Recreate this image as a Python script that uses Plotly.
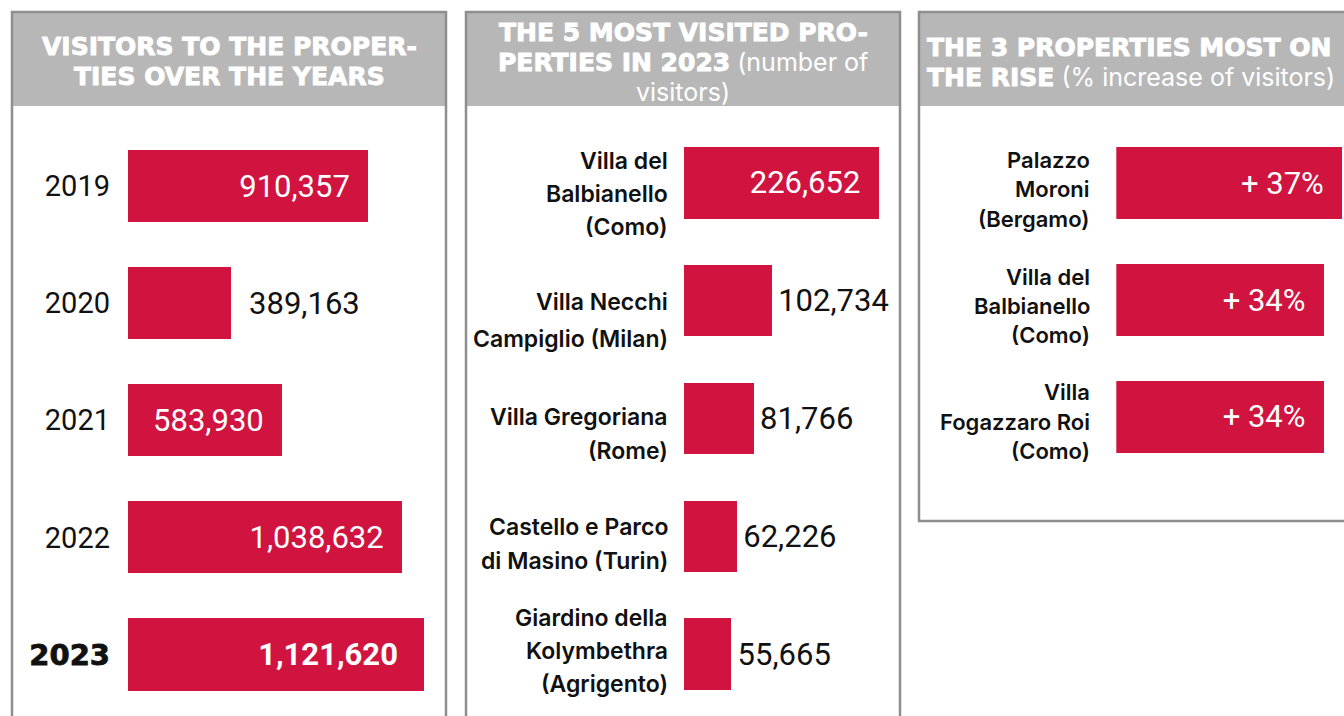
import plotly.graph_objects as go

# ---------------- data ----------------
years = ["2019", "2020", "2021", "2022", "2023"]
visitors = [910357, 389163, 583930, 1038632, 1121620]

top5_names = ["Villa del<br>Balbianello<br>(Como)",
              "Villa Necchi<br>Campiglio (Milan)",
              "Villa Gregoriana<br>(Rome)",
              "Castello e Parco<br>di Masino (Turin)",
              "Giardino della<br>Kolymbethra<br>(Agrigento)"]
top5_visitors = [226652, 102734, 81766, 62226, 55665]

rise_names = ["Palazzo<br>Moroni<br>(Bergamo)",
              "Villa del<br>Balbianello<br>(Como) ",
              "Villa<br>Fogazzaro Roi<br>(Como)"]
rise_pct = [37, 34, 34]

# ---------------- style ----------------
W, H = 1344, 716
RED = "#D0143F"
DARK = "#111111"
GREY_FILL = "#B7B7B7"
GREY_LINE = "#8E8E8E"
NB = "\u00a0"
VAL_FONT = "Roboto"
LAB_FONT = "Inter"
HEAVY_W = ("<span style='font-family:DejaVu Sans;font-weight:700;"
           "stroke:white;stroke-width:0.9px'>{}</span>")
HEAVY_B = ("<span style='font-family:DejaVu Sans;font-weight:700;"
           "stroke:#111111;stroke-width:0.8px'>{}</span>")


def px(x):
    return x / W


def py(y):
    return 1 - y / H


fig = go.Figure()

# ---- panel 1: visitors over the years
p1_pos = ["inside", "outside", "inside", "inside", "inside"]
p1_text = []
for y, v, pos in zip(years, visitors, p1_pos):
    s = f"{v:,}"
    if y == "2023":
        s = f"<b>{s}</b>" + NB * 3
    elif pos == "inside":
        s = s + NB * 2
    else:
        s = NB * 2 + s
    p1_text.append(s)
p1_col = ["white" if p == "inside" else DARK for p in p1_pos]

fig.add_trace(go.Bar(
    y=years, x=visitors, orientation="h", xaxis="x", yaxis="y",
    marker=dict(color=RED, line=dict(width=0)), width=0.615,
    text=p1_text, textposition=p1_pos, insidetextanchor="end",
    textangle=0, constraintext="none", cliponaxis=False,
    textfont=dict(family=VAL_FONT, size=31, color=p1_col),
    hoverinfo="skip", showlegend=False))

# ---- panel 2: top 5 properties
p2_pos = ["inside", "outside", "outside", "outside", "outside"]
p2_text = [f"{v:,}" + NB * 2 if p == "inside" else "\u200a" + f"{v:,}"
           for v, p in zip(top5_visitors, p2_pos)]
p2_col = ["white" if p == "inside" else DARK for p in p2_pos]
fig.add_trace(go.Bar(
    y=top5_names, x=top5_visitors, orientation="h", xaxis="x2", yaxis="y2",
    marker=dict(color=RED, line=dict(width=0)), width=0.607,
    text=p2_text, textposition=p2_pos, insidetextanchor="end",
    textangle=0, constraintext="none", cliponaxis=False,
    textfont=dict(family=VAL_FONT, size=31, color=p2_col),
    hoverinfo="skip", showlegend=False))

# ---- panel 3: most on the rise
p3_text = [f"+ {v}%" + NB * 2 for v in rise_pct]
fig.add_trace(go.Bar(
    y=rise_names, x=rise_pct, orientation="h", xaxis="x3", yaxis="y3",
    marker=dict(color=RED, line=dict(width=0)), width=0.617,
    text=p3_text, textposition="inside", insidetextanchor="end",
    textangle=0, constraintext="none", cliponaxis=False,
    textfont=dict(family=VAL_FONT, size=31, color="white"),
    hoverinfo="skip", showlegend=False))

hidden_x = dict(showgrid=False, zeroline=False, showticklabels=False,
                showline=False, ticks="", fixedrange=True)

year_ticks = [HEAVY_B.format(y) if y == "2023" else y for y in years]

fig.update_layout(
    width=W, height=H, margin=dict(l=0, r=0, t=0, b=0),
    paper_bgcolor="white", plot_bgcolor="rgba(0,0,0,0)",
    bargap=0,
    xaxis=dict(domain=[px(128), px(446)], range=[0, 1205000], anchor="y", **hidden_x),
    yaxis=dict(domain=[py(713.05), py(127.45)], type="category",
               categoryorder="array", categoryarray=years,
               range=[len(years) - 0.5, -0.5], anchor="x",
               tickmode="array", tickvals=years, ticktext=year_ticks,
               tickfont=dict(family=VAL_FONT, size=29, color=DARK),
               ticklabelstandoff=17, showgrid=False, zeroline=False,
               showline=False, ticks="", fixedrange=True),
    xaxis2=dict(domain=[px(683.5), px(898)], range=[0, 249000], anchor="y2", **hidden_x),
    yaxis2=dict(domain=[py(712.9), py(124.1)], type="category",
                categoryorder="array", categoryarray=top5_names,
                range=[len(top5_names) - 0.5, -0.5], anchor="x2",
                showticklabels=False, showgrid=False, zeroline=False,
                showline=False, ticks="", fixedrange=True),
    xaxis3=dict(domain=[px(1116.3), 1.0], range=[0, 37.3], anchor="y3", **hidden_x),
    yaxis3=dict(domain=[py(475), py(125)], type="category",
                categoryorder="array", categoryarray=rise_names,
                range=[len(rise_names) - 0.5, -0.5], anchor="x3",
                showticklabels=False, showgrid=False, zeroline=False,
                showline=False, ticks="", fixedrange=True),
)

# ---------------- panel frames & headers ----------------
shapes = []
for (x0, x1, y1) in [(12, 446, 730), (466, 900, 730), (919, 1360, 521)]:
    shapes.append(dict(type="rect", xref="paper", yref="paper",
                       x0=px(x0), x1=px(x1), y0=py(12), y1=py(106),
                       fillcolor=GREY_FILL, line=dict(width=0), layer="below"))
    shapes.append(dict(type="rect", xref="paper", yref="paper",
                       x0=px(x0), x1=px(x1), y0=py(y1), y1=py(12),
                       fillcolor="rgba(0,0,0,0)",
                       line=dict(color=GREY_LINE, width=2.5), layer="above"))
fig.update_layout(shapes=shapes)

# header lines: (text, x, y, anchor)
header_lines = [
    (HEAVY_W.format("VISITORS TO THE PROPER-"), 229, 46, "center"),
    (HEAVY_W.format("TIES OVER THE YEARS"), 229, 76, "center"),
    (HEAVY_W.format("THE 5 MOST VISITED PRO-"), 683, 33, "center"),
    (HEAVY_W.format("PERTIES IN 2023") + " (number of", 683, 62, "center"),
    ("visitors)", 683, 92, "center"),
    (HEAVY_W.format("THE 3 PROPERTIES MOST ON"), 925, 47, "left"),
    (HEAVY_W.format("THE RISE") + " (% increase of visitors)", 925, 77, "left"),
]
annotations = []
for txt, x, y, anc in header_lines:
    annotations.append(dict(
        text=txt, xref="paper", yref="paper", x=px(x), y=py(y),
        xanchor=anc, yanchor="middle", showarrow=False,
        font=dict(family="Inter", size=25, color="white")))

# category labels (panel 2 & 3), one annotation per line
p2_dy = [11, 20, 16, 8, -3]
p2_sp = [33, 37, 34, 34, 33]
for name, dy, sp in zip(top5_names, p2_dy, p2_sp):
    lines = name.split("<br>")
    n = len(lines)
    for j, ln in enumerate(lines):
        annotations.append(dict(
            text=ln, xref="paper", yref="y2", x=px(670), y=name,
            xanchor="right", yanchor="middle", showarrow=False,
            yshift=-(dy + (j - (n - 1) / 2) * sp),
            font=dict(family=LAB_FONT, size=23, color=DARK, weight=600)))

p3_dy = [6, 6, 5]
for name, dy in zip(rise_names, p3_dy):
    lines = name.split("<br>")
    n = len(lines)
    for j, ln in enumerate(lines):
        annotations.append(dict(
            text=ln.strip(), xref="paper", yref="y3", x=px(1092), y=name,
            xanchor="right", yanchor="middle", showarrow=False,
            yshift=-(dy + (j - (n - 1) / 2) * 29.3),
            font=dict(family=LAB_FONT, size=22, color=DARK, weight=600)))

fig.update_layout(annotations=annotations)

fig.write_html("out.html",
               config={"displayModeBar": False, "staticPlot": True},
               post_script="document.body.style.margin='0';document.body.style.overflow='hidden';")
